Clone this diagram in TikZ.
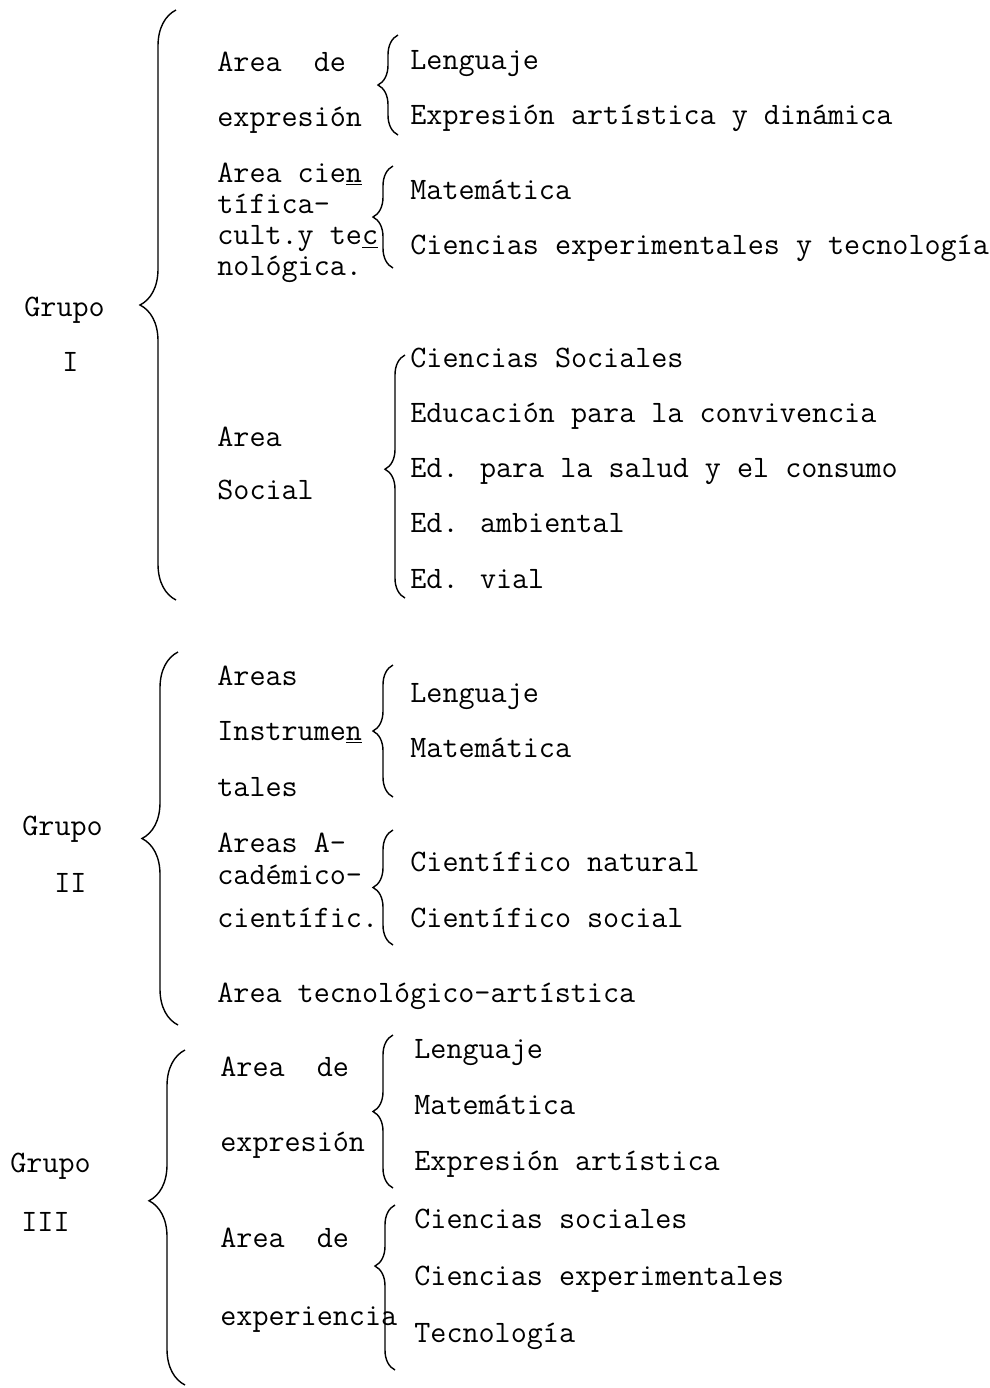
\documentclass[tikz,border=0pt]{standalone}
\usetikzlibrary{decorations.pathreplacing}
\newcommand{\tipo}{\fontsize{15.6pt}{18pt}\selectfont\ttfamily}
\newcommand{\gui}[1]{\underline{#1}}
\tikzset{
  txt/.style={anchor=base west, inner sep=0pt, text height=9pt, text depth=2.5pt, font=\tipo},
  llave/.style={decorate, decoration={brace, amplitude=#1}, line width=0.7pt},
  llave/.default=10pt
}
\begin{document}
\begin{tikzpicture}[x=0.5pt,y=-0.5pt]
\useasboundingbox (0,0) rectangle (990,1388);
% Grupo I
\node[txt] (g1) at (24,316) {Grupo};
\node[txt] (g1n) at (62,371) {I};
\draw[llave=18pt, decoration={aspect=0.5}] (176,600) -- (176,10);
\node[txt] (g1a) at (217,71) {Area\ \ de};
\node[txt] (g1b) at (217,126) {expresión};
\node[txt] (g1l) at (410,69) {Lenguaje};
\node[txt] (g1e) at (410,124) {Expresión artística y dinámica};
\draw[llave] (398,135) -- (398,35);
\node[txt] (g1c) at (217,182) {Area cie\gui{n}};
\node[txt] (g1d) at (217,213) {tífica-};
\node[txt] (g1f) at (217,244) {cult.y te\gui{c}};
\node[txt] (g1g) at (217,275) {nológica.};
\node[txt] (g1m) at (410,199) {Matemática};
\node[txt] (g1x) at (410,254) {Ciencias experimentales y tecnología};
\draw[llave] (393,268) -- (393,166);
\node[txt] (g1s1) at (217,446) {Area};
\node[txt] (g1s2) at (217,499) {Social};
\foreach \t [count=\i from 0] in {Ciencias Sociales,Educación para la convivencia,Ed. para la salud y el consumo,Ed. ambiental,Ed. vial}
  \node[txt] (soc\i) at (410,{367+55.3*\i}) {\t};
\draw[llave, decoration={aspect=0.53}] (405,598) -- (405,355);
% Grupo II
\node[txt] (g2) at (22,835) {Grupo};
\node[txt] (g2n) at (54,892) {II};
\draw[llave=18pt, decoration={aspect=0.5}] (178,1025) -- (178,652);
\node[txt] (g2a) at (217,685) {Areas};
\node[txt] (g2b) at (217,740) {Instrume\gui{n}};
\node[txt] (g2c) at (217,796) {tales};
\node[txt] (g2l) at (410,702) {Lenguaje};
\node[txt] (g2m) at (410,757) {Matemática};
\draw[llave] (393,797) -- (393,665);
\node[txt] (g2d) at (217,852) {Areas A-};
\node[txt] (g2e) at (217,884) {cadémico-};
\node[txt] (g2f) at (217,927) {científic.};
\node[txt] (g2cn) at (410,871) {Científico natural};
\node[txt] (g2cs) at (410,927) {Científico social};
\draw[llave] (393,945) -- (393,830);
\node[txt] (g2t) at (217,1002) {Area tecnológico-artística};
% Grupo III
\node[txt] (g3) at (10,1172) {Grupo};
\node[txt] (g3n) at (21,1231) {III};
\draw[llave=18pt, decoration={aspect=0.55}] (185,1385) -- (185,1050);
\node[txt] (g3a) at (220,1076) {Area\ \ de};
\node[txt] (g3b) at (220,1151) {expresión};
\foreach \t [count=\i from 0] in {Lenguaje,Matemática,Expresión artística}
  \node[txt] (exp\i) at (414,{1058+56*\i}) {\t};
\draw[llave] (393,1188) -- (393,1035);
\node[txt] (g3c) at (220,1247) {Area\ \ de};
\node[txt] (g3d) at (220,1325) {experiencia};
\foreach \t [count=\i from 0] in {Ciencias sociales,Ciencias experimentales,Tecnología}
  \node[txt] (exq\i) at (414,{1228+57*\i}) {\t};
\draw[llave, decoration={aspect=0.63}] (395,1370) -- (395,1205);
\end{tikzpicture}
\end{document}
